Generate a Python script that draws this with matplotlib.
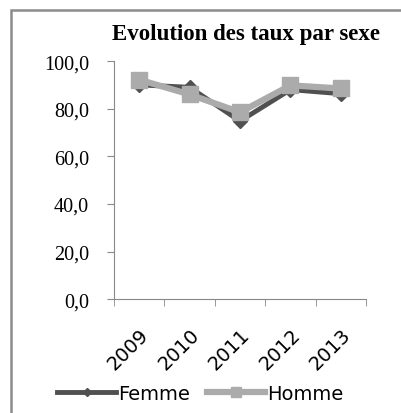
import matplotlib.pyplot as plt
from matplotlib.patches import Rectangle
import numpy as np

years = ['2009', '2010', '2011', '2012', '2013']
femme = [90.0, 89.0, 74.8, 88.0, 86.3]
homme = [92.2, 86.0, 78.5, 89.8, 88.5]
yticks = [0, 20, 40, 60, 80, 100]

fig = plt.figure(figsize=(4.01, 4.14), dpi=100)
ax = fig.add_axes([0.284, 0.275, 0.629, 0.575])

x = np.arange(len(years))
ax.plot(x, femme, color='#505050', lw=3.5, marker='D', ms=7, label='Femme', zorder=3)
ax.plot(x, homme, color='#ababab', lw=4.5, marker='s', ms=12, label='Homme', zorder=4)

ax.set_xlim(-0.5, len(years) - 0.5)
ax.set_ylim(0, 100)
ax.set_yticks(yticks)
ax.set_yticklabels([('%.1f' % v).replace('.', ',') for v in yticks],
                   fontfamily='Liberation Serif', fontsize=14.5)
ax.set_xticks(x)
ax.set_xticklabels(years, rotation=45, ha='right', rotation_mode='anchor',
                   fontfamily='DejaVu Sans', fontsize=14)
ax.set_xticks(np.arange(-0.5, len(years)), minor=True)
ax.tick_params(axis='x', which='major', length=0, pad=18)
ax.tick_params(axis='x', which='minor', length=5, color='#888888', direction='out')
ax.tick_params(axis='y', length=5, color='#888888', pad=13)
for s in ['top', 'right']:
    ax.spines[s].set_visible(False)
for s in ['left', 'bottom']:
    ax.spines[s].set_color('#888888')
    ax.spines[s].set_linewidth(0.8)

ax.set_title('Evolution des taux par sexe', fontfamily='Liberation Serif',
             fontweight='bold', fontsize=16.5, pad=16, x=0.525)

fig.legend(loc='center', bbox_to_anchor=(0.5, 0.048), ncol=2, frameon=False,
           prop={'family': 'DejaVu Sans', 'size': 14}, handlelength=3.0,
           handletextpad=0.1, columnspacing=0.9, borderaxespad=0, markerscale=0.65)

# outer chart frame
top = 1 - 11 / 414
fig.patches.append(Rectangle((11 / 401, -0.1), 2, top + 0.1, transform=fig.transFigure,
                             fill=False, edgecolor='#8c8c8c', lw=1.8))

fig.savefig('out.png', dpi=100)
